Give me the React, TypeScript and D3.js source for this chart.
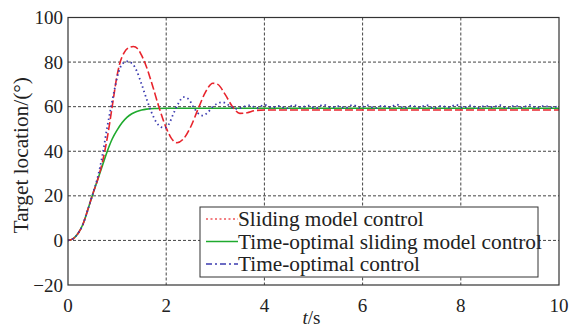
import React from 'react';
import * as d3 from 'd3';

const W = 572;
const H = 328;

const xTicks = [0, 2, 4, 6, 8, 10];
const yTicks = [-20, 0, 20, 40, 60, 80, 100];

// Sliding model control (red)
const slidingData: [number, number][] = [
  [0, 0], [0.1, 0.7], [0.2, 3], [0.3, 7], [0.4, 13.5], [0.5, 20.5], [0.6, 27], [0.7, 35],
  [0.8, 46], [0.9, 60], [1.0, 74], [1.05, 79], [1.15, 84.5], [1.25, 86.6], [1.33, 87],
  [1.42, 86], [1.5, 83], [1.57, 79.5], [1.7, 71], [1.85, 60], [2.0, 50.5], [2.1, 46],
  [2.22, 43.8], [2.35, 45.5], [2.5, 51], [2.65, 59], [2.8, 66.5], [2.95, 70.5], [3.05, 70],
  [3.2, 65.5], [3.35, 60], [3.5, 57], [3.65, 57.3], [3.8, 58.2], [4.0, 58.5], [10, 58.5],
];

// Time-optimal sliding model control (green)
const tosmData: [number, number][] = [
  [0, 0], [0.1, 0.7], [0.2, 3], [0.3, 7], [0.4, 13.5], [0.5, 20.5], [0.6, 27], [0.7, 33.5],
  [0.8, 40], [0.9, 45.5], [1.0, 49.5], [1.1, 52.8], [1.2, 55.2], [1.3, 56.8], [1.4, 57.8],
  [1.5, 58.5], [1.6, 58.9], [1.8, 59.2], [2.0, 59.3], [10, 59.3],
];

// Time-optimal control (blue)
const toData: [number, number][] = [
  [0, 0], [0.1, 0.7], [0.2, 3], [0.3, 7], [0.4, 13.5], [0.5, 20.5], [0.6, 28], [0.7, 38],
  [0.8, 51], [0.86, 58], [0.95, 68], [1.03, 75.5], [1.1, 79], [1.2, 80.3], [1.3, 79.5],
  [1.4, 76], [1.5, 70], [1.6, 63.5], [1.7, 57.5], [1.8, 53], [1.9, 50.8], [1.97, 50.5],
  [2.05, 52], [2.15, 57], [2.25, 61.5], [2.35, 64.3], [2.45, 63.5], [2.55, 60], [2.65, 57],
  [2.75, 56], [2.85, 57.5], [2.95, 60], [3.05, 61.5], [3.15, 62], [3.25, 61], [3.35, 59.5],
  [3.45, 59], [3.55, 59.8], [3.7, 60.6], [3.85, 59.4], [4.0, 60.8], [4.15, 59.6], [4.3, 60.3],
  [4.45, 59.2], [4.6, 60.7], [4.75, 59.8], [4.9, 60.5], [5.05, 59.3], [5.2, 60.9], [5.35, 59.7],
  [5.5, 60.2], [5.65, 59.4], [5.8, 60.8], [5.95, 59.5], [6.1, 60.6], [6.25, 59.3], [6.4, 60.4],
  [6.55, 59.8], [6.7, 60.9], [6.85, 59.4], [7.0, 60.5], [7.15, 59.6], [7.3, 60.7], [7.45, 59.3],
  [7.6, 60.3], [7.75, 59.7], [7.9, 60.8], [8.05, 59.5], [8.2, 60.6], [8.35, 59.4], [8.5, 60.4],
  [8.65, 59.8], [8.8, 60.7], [8.95, 59.3], [9.1, 60.5], [9.25, 59.6], [9.4, 60.8], [9.55, 59.5],
  [9.7, 60.4], [9.85, 59.7], [10, 60.2],
];

const legendItems = [
  { label: 'Sliding model control', color: '#f0555a', dash: '2,2.5' },
  { label: 'Time-optimal sliding model control', color: '#1faa2e', dash: null },
  { label: 'Time-optimal control', color: '#3b3bb0', dash: '6,3,2,3' },
];

const FONT = "'Liberation Serif', 'Times New Roman', 'DejaVu Serif', serif";
const txt = { fontFamily: FONT, fontSize: 19, fill: '#222' } as const;
const bigTxt = { ...txt, fontSize: 21.3 } as const;

export default function App() {
  const margin = { left: 68, right: 13, top: 17.5, bottom: 43 };
  const x = d3.scaleLinear().domain([0, 10]).range([margin.left, W - margin.right]);
  const y = d3.scaleLinear().domain([-20, 100]).range([H - margin.bottom, margin.top]);

  const line = d3.line<[number, number]>()
    .x(d => x(d[0]))
    .y(d => y(d[1]))
    .curve(d3.curveMonotoneX);

  const [x0, x1] = x.range();
  const [y0, y1] = y.range();

  const lgX = 200, lgY = 207, lgW = 338, lgH = 70;

  return (
    <div style={{ position: 'fixed', left: 0, top: 0 }}>
      <svg width={W} height={H} style={{ display: 'block', background: '#fff' }}>
        {/* grid */}
        {xTicks.filter(t => t > 0 && t < 10).map(t => (
          <line key={'gx' + t} x1={x(t)} x2={x(t)} y1={y1} y2={y0}
            stroke="#444" strokeWidth={1} strokeDasharray="3,2" />
        ))}
        {yTicks.filter(t => t > -20 && t < 100).map(t => (
          <line key={'gy' + t} x1={x0} x2={x1} y1={y(t)} y2={y(t)}
            stroke="#444" strokeWidth={1} strokeDasharray="3,2" />
        ))}

        {/* curves */}
        <path d={line(tosmData) || ''} fill="none" stroke="#1faa2e" strokeWidth={1.6} />
        <path d={line(slidingData) || ''} fill="none" stroke="#e8242c" strokeWidth={1.6} strokeDasharray="8,3" />
        <path d={line(toData) || ''} fill="none" stroke="#3b3bb0" strokeWidth={1.8} strokeDasharray="1.5,3" />

        {/* frame */}
        <rect x={x0} y={y1} width={x1 - x0} height={y0 - y1} fill="none" stroke="#333" strokeWidth={1.2} />

        {/* tick labels */}
        {yTicks.map(t => (
          <text key={'ty' + t} x={x0 - 5} y={y(t)} dy="0.35em" textAnchor="end" style={txt}>
            {t < 0 ? '\u2212' + Math.abs(t) : t}
          </text>
        ))}
        {xTicks.map(t => (
          <text key={'tx' + t} x={x(t)} y={y0 + 27} textAnchor="middle" style={txt}>
            {t}
          </text>
        ))}

        {/* axis titles */}
        <text x={x(5) - 2} y={H - 4} textAnchor="middle" style={txt}>
          <tspan fontStyle="italic">t</tspan>/s
        </text>
        <text transform={`translate(28,${(y0 + y1) / 2 + 4}) rotate(-90)`} textAnchor="middle" style={bigTxt}>
          Target location/(°)
        </text>

        {/* legend */}
        <rect x={lgX} y={lgY} width={lgW} height={lgH} fill="#fff" stroke="#333" strokeWidth={1} />
        {legendItems.map((it, i) => {
          const cy = lgY + 12 + i * 22.5;
          return (
            <g key={it.label}>
              <line x1={lgX + 6} x2={lgX + 38} y1={cy} y2={cy} stroke={it.color}
                strokeWidth={1.5} strokeDasharray={it.dash || undefined} />
              <text x={lgX + 38} y={cy} dy="0.35em" style={bigTxt}>{it.label}</text>
            </g>
          );
        })}
      </svg>
    </div>
  );
}
